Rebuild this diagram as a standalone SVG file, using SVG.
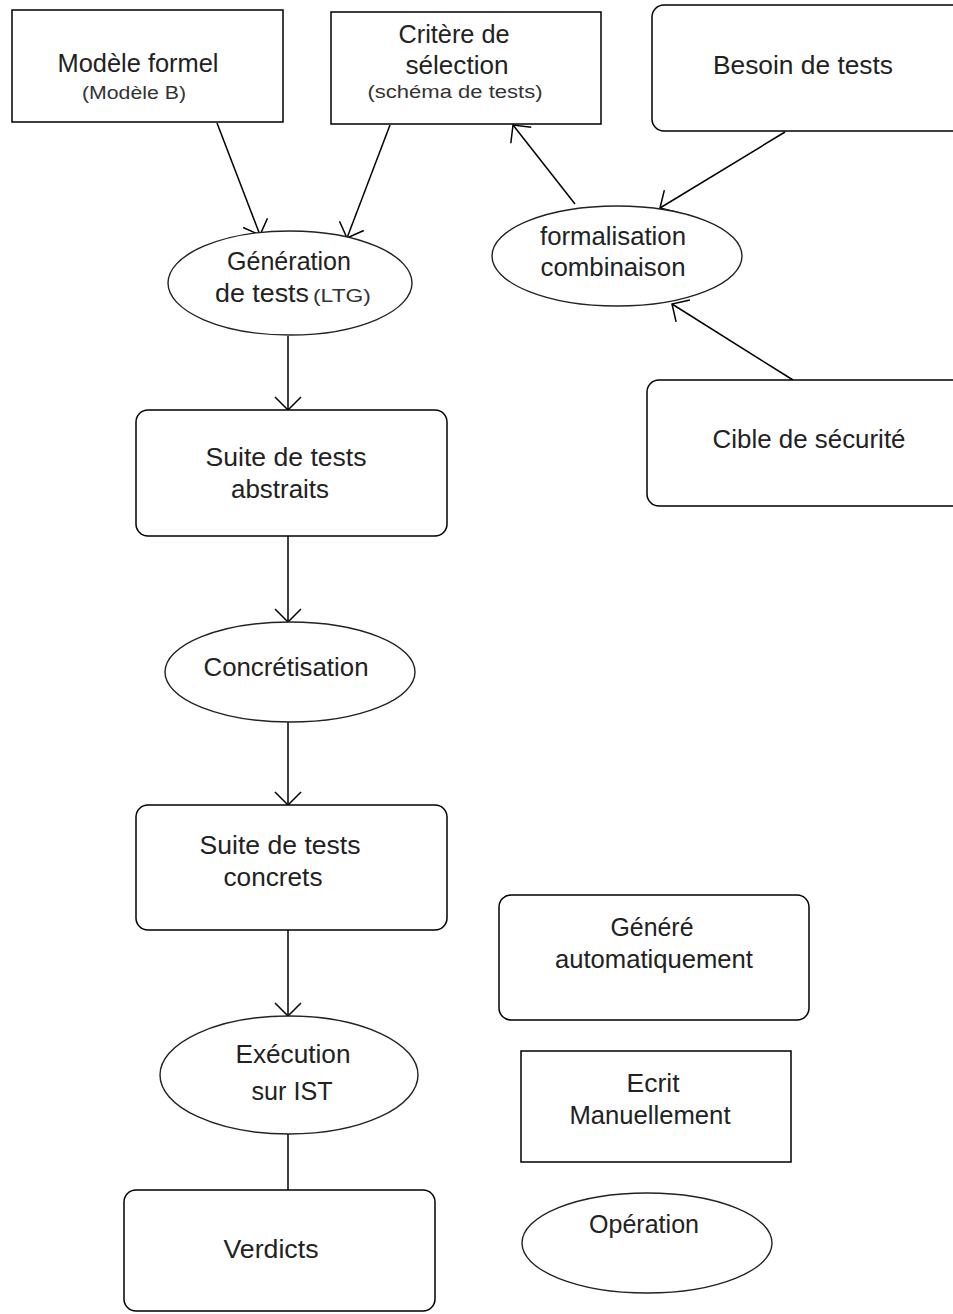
<svg xmlns="http://www.w3.org/2000/svg" width="953" height="1314" viewBox="0 0 953 1314">
<style>
.box{fill:#fff;stroke:#000;stroke-width:1.5}
.ell{fill:#fff;stroke:#222;stroke-width:1.4}
.t{font-family:"Liberation Sans",Arial,sans-serif;font-size:25px;fill:#222;text-anchor:middle}
.s{font-family:"Liberation Sans",Arial,sans-serif;font-size:18px;fill:#333;text-anchor:middle}
.c{fill:none;stroke:#000;stroke-width:1.5}
</style>
<defs>
<marker id="arr" viewBox="-15 -15 17 30" refX="0" refY="0" markerWidth="17" markerHeight="30" markerUnits="userSpaceOnUse" orient="auto" overflow="visible">
<path d="M-13,-13 L0,0 L-13,13" fill="none" stroke="#000" stroke-width="1.5"/>
</marker>
</defs>
<rect width="953" height="1314" fill="#fff"/>
<g id="connectors">
<line class="c" x1="217" y1="123" x2="260" y2="235" marker-end="url(#arr)"/>
<line class="c" x1="390" y1="125" x2="347" y2="238" marker-end="url(#arr)"/>
<line class="c" x1="575" y1="204" x2="513" y2="125" marker-end="url(#arr)"/>
<line class="c" x1="785" y1="132" x2="660" y2="208" marker-end="url(#arr)"/>
<line class="c" x1="793" y1="380" x2="672" y2="304" marker-end="url(#arr)"/>
<line class="c" x1="288" y1="336" x2="288" y2="410" marker-end="url(#arr)"/>
<line class="c" x1="288" y1="536" x2="288" y2="622" marker-end="url(#arr)"/>
<line class="c" x1="288" y1="722" x2="288" y2="805" marker-end="url(#arr)"/>
<line class="c" x1="288" y1="930" x2="288" y2="1016" marker-end="url(#arr)"/>
<line class="c" x1="288" y1="1134" x2="288" y2="1190"/>
</g>
<g id="modele-formel">
<rect class="box" x="12" y="10" width="271" height="112"/>
<text class="t" x="138" y="72" textLength="161" lengthAdjust="spacingAndGlyphs">Modèle formel</text>
<text class="s" x="134" y="99" textLength="104" lengthAdjust="spacingAndGlyphs">(Modèle B)</text>
</g>
<g id="critere-selection">
<rect class="box" x="331" y="12" width="270" height="112"/>
<text class="t" x="454" y="43" textLength="111" lengthAdjust="spacingAndGlyphs">Critère de</text>
<text class="t" x="457" y="74" textLength="103" lengthAdjust="spacingAndGlyphs">sélection</text>
<text class="s" x="455" y="98" textLength="175" lengthAdjust="spacingAndGlyphs">(schéma de tests)</text>
</g>
<g id="besoin-tests">
<rect class="box" x="652" y="5" width="320" height="126" rx="12"/>
<text class="t" x="803" y="74" textLength="180" lengthAdjust="spacingAndGlyphs">Besoin de tests</text>
</g>
<g id="generation-tests">
<ellipse class="ell" cx="290" cy="283" rx="122" ry="52"/>
<text class="t" x="289" y="270" textLength="124" lengthAdjust="spacingAndGlyphs">Génération</text>
<text class="t" x="262" y="302" textLength="94" lengthAdjust="spacingAndGlyphs">de tests</text>
<text class="s" x="342" y="302" textLength="58" lengthAdjust="spacingAndGlyphs">(LTG)</text>
</g>
<g id="formalisation-combinaison">
<ellipse class="ell" cx="617" cy="256" rx="125" ry="50"/>
<text class="t" x="613" y="245" textLength="146" lengthAdjust="spacingAndGlyphs">formalisation</text>
<text class="t" x="613" y="276" textLength="145" lengthAdjust="spacingAndGlyphs">combinaison</text>
</g>
<g id="cible-securite">
<rect class="box" x="647" y="380" width="325" height="126" rx="12"/>
<text class="t" x="809" y="448" textLength="193" lengthAdjust="spacingAndGlyphs">Cible de sécurité</text>
</g>
<g id="suite-abstraits">
<rect class="box" x="136" y="410" width="311" height="126" rx="12"/>
<text class="t" x="286" y="466" textLength="161" lengthAdjust="spacingAndGlyphs">Suite de tests</text>
<text class="t" x="280" y="498" textLength="98" lengthAdjust="spacingAndGlyphs">abstraits</text>
</g>
<g id="concretisation">
<ellipse class="ell" cx="290" cy="672" rx="125" ry="50"/>
<text class="t" x="286" y="676" textLength="165" lengthAdjust="spacingAndGlyphs">Concrétisation</text>
</g>
<g id="suite-concrets">
<rect class="box" x="136" y="805" width="311" height="125" rx="12"/>
<text class="t" x="280" y="854" textLength="161" lengthAdjust="spacingAndGlyphs">Suite de tests</text>
<text class="t" x="273" y="886" textLength="99" lengthAdjust="spacingAndGlyphs">concrets</text>
</g>
<g id="genere-automatiquement">
<rect class="box" x="499" y="895" width="310" height="125" rx="12"/>
<text class="t" x="652" y="936" textLength="83" lengthAdjust="spacingAndGlyphs">Généré</text>
<text class="t" x="654" y="968" textLength="198" lengthAdjust="spacingAndGlyphs">automatiquement</text>
</g>
<g id="execution-ist">
<ellipse class="ell" cx="289" cy="1075" rx="129" ry="59"/>
<text class="t" x="293" y="1063" textLength="115" lengthAdjust="spacingAndGlyphs">Exécution</text>
<text class="t" x="292" y="1100" textLength="81" lengthAdjust="spacingAndGlyphs">sur IST</text>
</g>
<g id="ecrit-manuellement">
<rect class="box" x="521" y="1051" width="270" height="111"/>
<text class="t" x="653" y="1092" textLength="53" lengthAdjust="spacingAndGlyphs">Ecrit</text>
<text class="t" x="650" y="1124" textLength="161" lengthAdjust="spacingAndGlyphs">Manuellement</text>
</g>
<g id="verdicts">
<rect class="box" x="124" y="1190" width="311" height="121" rx="12"/>
<text class="t" x="271" y="1258" textLength="95" lengthAdjust="spacingAndGlyphs">Verdicts</text>
</g>
<g id="operation">
<ellipse class="ell" cx="647" cy="1243" rx="125" ry="50"/>
<text class="t" x="644" y="1233" textLength="110" lengthAdjust="spacingAndGlyphs">Opération</text>
</g>
</svg>
